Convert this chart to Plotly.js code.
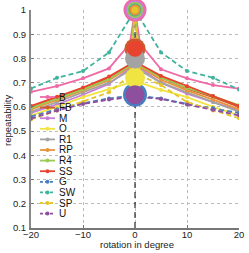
<!DOCTYPE html>
<html><head><meta charset="utf-8">
<script src="https://cdn.plot.ly/plotly-3.0.1.min.js"></script>
<style>html,body{margin:0;padding:0;background:#fff}#c{width:249px;height:253px}</style>
</head><body><div id="c"></div>
<script>
const angles = [-20,-15,-10,-5,-1,0,1,5,10,15,20];
const names = ['B','FB','M','O','R1','RP','R4','SS','G','SW','SP','U'];
const B  = [0.662,0.686,0.718,0.759,0.86,1.0,0.86,0.755,0.718,0.69,0.675];
const FB = [0.598,0.636,0.675,0.72,0.77,0.84,0.77,0.722,0.675,0.64,0.6];
const M  = [0.575,0.61,0.65,0.695,0.76,1.0,0.76,0.7,0.655,0.62,0.585];
const O  = [0.565,0.6,0.64,0.675,0.7,0.72,0.7,0.67,0.64,0.6,0.565];
const R1 = [0.58,0.62,0.66,0.7,0.75,0.80,0.75,0.7,0.66,0.62,0.58];
const RP = [0.59,0.628,0.668,0.71,0.765,1.0,0.765,0.712,0.668,0.63,0.59];
const R4 = [0.596,0.634,0.672,0.715,0.77,1.0,0.77,0.722,0.678,0.645,0.607];
const SS = [0.604,0.642,0.68,0.725,0.775,0.84,0.775,0.728,0.685,0.645,0.604];
const G  = [0.56,0.59,0.615,0.635,0.645,0.65,0.645,0.635,0.612,0.595,0.575];
const SW = [0.676,0.72,0.748,0.825,0.965,1.0,0.965,0.825,0.748,0.72,0.672];
const SP = [0.548,0.585,0.62,0.66,0.73,1.0,0.73,0.69,0.62,0.585,0.553];
const U  = [0.552,0.585,0.612,0.63,0.64,0.65,0.64,0.633,0.61,0.588,0.565];
const values = {B,FB,M,O,R1,RP,R4,SS,G,SW,SP,U};

const colors = {B:'#ee6aa7',FB:'#cc5a2e',M:'#c77fd6',O:'#f0e442',R1:'#a3a3a3',RP:'#e8923a',
  R4:'#9acb55',SS:'#e8432e',G:'#4a7fbf',SW:'#3fb39b',SP:'#e6c52a',U:'#8e4f9e'};
const dashed = {G:1,SW:1,SP:1,U:1};
const bigSize = {B:23,FB:21,M:19,O:20,R1:20,RP:11,R4:16,SS:16,G:24,SW:13,SP:7,U:19};

// plot-area geometry in pixels (for legend/titles placement)
const W=249,H=253,L=31,R=10,T=10,Bm=25;
const pw=W-L-R, ph=H-T-Bm;
const px2x = p => (p-L)/pw, py2y = p => (H-Bm-p)/ph;

const traces = [];
traces.push({x:[0,0],y:[0.1,1],mode:'lines',line:{color:'#000',width:1,dash:'6px,4px'},showlegend:false,hoverinfo:'skip'});
names.forEach(n=>{
  traces.push({x:angles,y:values[n],name:n,mode:'lines+markers',showlegend:false,
    line:{color:colors[n],width:1.8,dash:dashed[n]?'5px,3px':'solid'},
    marker:{color:colors[n],size:4}});
});
const i0 = angles.indexOf(0);
names.slice().sort((a,b)=>bigSize[b]-bigSize[a]).forEach(n=>{
  traces.push({x:[0],y:[values[n][i0]],mode:'markers',showlegend:false,hoverinfo:'skip',cliponaxis:false,
    marker:{color:colors[n],size:bigSize[n],line:{width:0}}});
});

// manual legend
const shapes=[], annotations=[];
names.forEach((n,i)=>{
  const py = 97 + i*10.6;
  shapes.push({type:'line',xref:'paper',yref:'paper',x0:px2x(40),x1:px2x(55),y0:py2y(py),y1:py2y(py),
    line:{color:colors[n],width:1.8,dash:dashed[n]?'3px,2px':'solid'}});
  shapes.push({type:'circle',xref:'paper',yref:'paper',xsizemode:'pixel',ysizemode:'pixel',
    xanchor:px2x(47.5),yanchor:py2y(py),x0:-2,x1:2,y0:-2,y1:2,fillcolor:colors[n],line:{width:0}});
  annotations.push({xref:'paper',yref:'paper',x:px2x(57),y:py2y(py),xanchor:'left',yanchor:'middle',
    text:n,showarrow:false,font:{size:10,color:'#111'}});
});
annotations.push({xref:'paper',yref:'paper',x:px2x(137),y:py2y(244.5),xanchor:'center',yanchor:'middle',
  text:'rotation in degree',showarrow:false,font:{size:9.5,color:'#222'}});
annotations.push({xref:'paper',yref:'paper',x:px2x(8),y:py2y(121),xanchor:'center',yanchor:'middle',
  text:'repeatability',textangle:-90,showarrow:false,font:{size:9.5,color:'#222'}});

const layout = {
  width:W,height:H,margin:{l:L,r:R,t:T,b:Bm},
  paper_bgcolor:'#fff',plot_bgcolor:'#fff',
  font:{family:'Liberation Sans, Arial, sans-serif',size:9.5,color:'#222'},
  xaxis:{range:[-20,20],dtick:10,tick0:0,showgrid:true,gridcolor:'#bbb',griddash:'dot',gridwidth:1,
    zeroline:false,showline:true,linecolor:'#777',linewidth:1.5,ticks:'inside',ticklen:3,tickcolor:'#777',
    tickfont:{size:9.5},ticklabelstandoff:-3},
  yaxis:{range:[0.1,1],dtick:0.1,tick0:0,showgrid:true,gridcolor:'#bbb',griddash:'dot',gridwidth:1,
    zeroline:false,showline:true,linecolor:'#888',linewidth:2,ticks:'inside',ticklen:3,tickcolor:'#777',
    tickfont:{size:9.5},ticklabelstandoff:1},
  shapes, annotations,
  showlegend:false
};
Plotly.newPlot('c',traces,layout,{displayModeBar:false,staticPlot:true});
</script></body></html>
